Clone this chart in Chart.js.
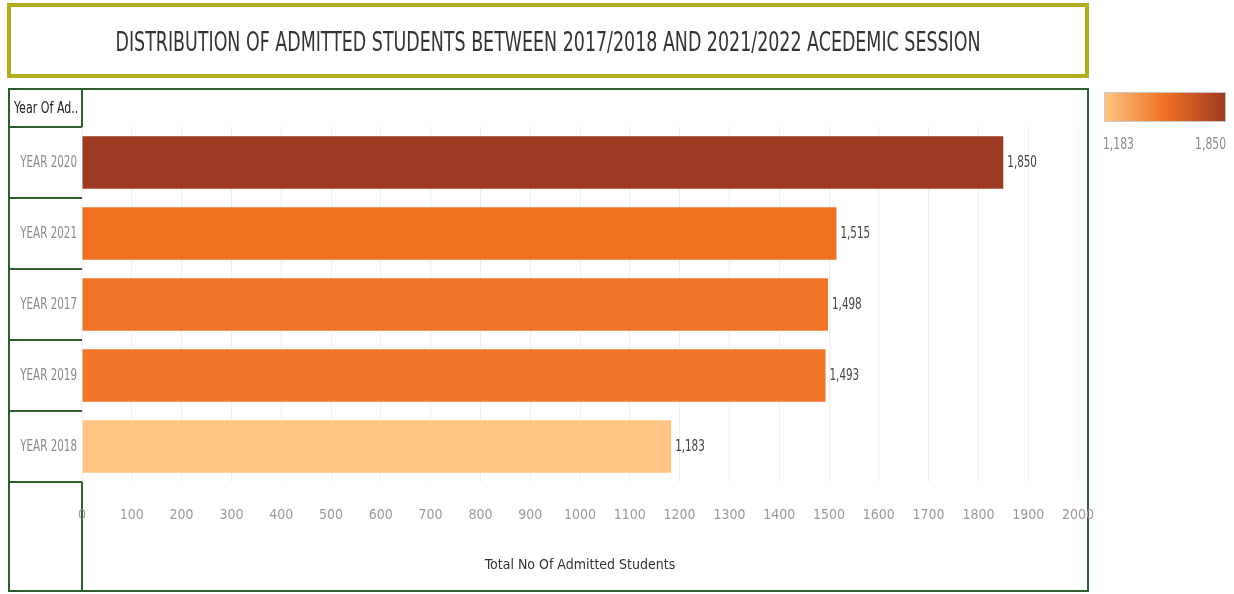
<!DOCTYPE html>
<html lang="en">
<head>
    <meta charset="UTF-8">
    <title>Distribution of Admitted Students</title>
    <script src="https://cdn.jsdelivr.net/npm/chart.js"></script>
    <style>
        html, body { margin: 0; padding: 0; background: #fff; }
        #chart { display: block; }
    </style>
</head>
<body>
    <canvas id="chart" width="1234" height="594"></canvas>
    <script>
        // Data
        const categories = ['YEAR 2020', 'YEAR 2021', 'YEAR 2017', 'YEAR 2019', 'YEAR 2018'];
        const admitted = [1850, 1515, 1498, 1493, 1183];
        const xMin = 0, xMax = 2000, xStep = 100;

        const titleText = 'DISTRIBUTION OF ADMITTED STUDENTS BETWEEN 2017/2018 AND 2021/2022 ACEDEMIC SESSION';
        const FONT = '"DejaVu Sans Condensed", "Liberation Sans Narrow", "Noto Sans", sans-serif';

        // colour ramp (light -> orange -> brown)
        const stops = [[0, [253, 197, 129]], [0.5, [239, 113, 34]], [1, [157, 58, 34]]];
        const lo = Math.min(...admitted), hi = Math.max(...admitted);
        function rampColor(v) {
            const t = (v - lo) / (hi - lo);
            for (let i = 1; i < stops.length; i++) {
                if (t <= stops[i][0]) {
                    const a = stops[i - 1], b = stops[i];
                    const f = (t - a[0]) / (b[0] - a[0]);
                    const c = a[1].map((x, k) => Math.round(x + (b[1][k] - x) * f));
                    return `rgb(${c[0]},${c[1]},${c[2]})`;
                }
            }
            const c = stops[stops.length - 1][1];
            return `rgb(${c[0]},${c[1]},${c[2]})`;
        }

        const fmt = n => n.toLocaleString('en-US');

        // narrow text: squeeze horizontally to look like the condensed original
        function narrowText(c, text, x, y, align, size, color, sx) {
            c.save();
            c.font = size + 'px ' + FONT;
            c.fillStyle = color;
            c.textAlign = align;
            c.textBaseline = 'middle';
            c.translate(x, y);
            c.scale(sx, 1);
            c.fillText(text, 0, 0);
            c.restore();
        }

        const decorPlugin = {
            id: 'decor',
            beforeDraw(chart) {
                const c = chart.ctx;
                const area = chart.chartArea;
                c.save();
                // title box
                c.strokeStyle = '#b3ad1e';
                c.lineWidth = 4;
                c.strokeRect(9, 5, 1078, 71);
                c.font = '27px ' + FONT;
                const w = c.measureText(titleText).width;
                c.restore();
                narrowText(c, titleText, 548, 44, 'center', 27, '#333', 865 / w);

                c.save();
                // panel frame
                c.strokeStyle = '#2f5e2f';
                c.lineWidth = 2;
                c.strokeRect(9, 89, 1079, 502);
                // header box
                c.strokeRect(9, 89, 73, 38);
                // row separators in left column
                const band = (area.bottom - area.top) / categories.length;
                for (let i = 1; i <= categories.length; i++) {
                    const yy = Math.round(area.top + band * i);
                    c.beginPath();
                    c.moveTo(9, yy);
                    c.lineTo(82, yy);
                    c.stroke();
                }
                c.beginPath();
                c.moveTo(82, area.bottom);
                c.lineTo(82, 591);
                c.stroke();

                // colour legend
                const g = c.createLinearGradient(1104, 0, 1226, 0);
                stops.forEach(s => g.addColorStop(s[0], `rgb(${s[1].join(',')})`));
                c.fillStyle = g;
                c.fillRect(1104, 92, 122, 30);
                c.strokeStyle = '#c9c9c9';
                c.lineWidth = 1;
                c.strokeRect(1104.5, 92.5, 121, 29);
                c.restore();

                narrowText(c, 'Year Of Ad..', 14, 109, 'left', 15, '#222', 0.82);
                narrowText(c, fmt(lo), 1103, 145, 'left', 15, '#8a8a8a', 0.8);
                narrowText(c, fmt(hi), 1226, 145, 'right', 15, '#8a8a8a', 0.8);

                // category labels from the y scale
                const y = chart.scales.y;
                y.ticks.forEach((t, i) => {
                    narrowText(c, y.getLabelForValue(t.value), 77, y.getPixelForTick(i), 'right', 16, '#8a8a8a', 0.72);
                });
            },
            afterDatasetsDraw(chart) {
                const c = chart.ctx;
                const meta = chart.getDatasetMeta(0);
                meta.data.forEach((bar, i) => {
                    narrowText(c, fmt(admitted[i]), bar.x + 4, bar.y, 'left', 16, '#444', 0.72);
                });
            }
        };

        new Chart(document.getElementById('chart'), {
            type: 'bar',
            data: {
                labels: categories,
                datasets: [{
                    label: 'Total No Of Admitted Students',
                    data: admitted,
                    backgroundColor: admitted.map(rampColor),
                    borderWidth: 0,
                    categoryPercentage: 0.74,
                    barPercentage: 1
                }]
            },
            options: {
                indexAxis: 'y',
                responsive: false,
                animation: false,
                layout: { padding: { left: 8, top: 127, right: 156, bottom: 2 } },
                plugins: {
                    legend: { display: false },
                    tooltip: { enabled: false }
                },
                scales: {
                    x: {
                        min: xMin,
                        max: xMax,
                        ticks: {
                            stepSize: xStep,
                            padding: 25,
                            color: '#9a9a9a',
                            font: { family: FONT, size: 14 },
                            callback: v => String(v)
                        },
                        grid: { color: '#efefef', drawTicks: false },
                        border: { display: false },
                        title: {
                            display: true,
                            text: 'Total No Of Admitted Students',
                            color: '#333',
                            font: { family: FONT, size: 14 },
                            padding: { top: 0, bottom: 18 }
                        },
                        afterFit(scale) { scale.height = 110; }
                    },
                    y: {
                        ticks: { display: false },
                        grid: { display: false, drawTicks: false },
                        border: { display: false },
                        afterFit(scale) { scale.width = 74; }
                    }
                }
            },
            plugins: [decorPlugin]
        });
    </script>
</body>
</html>
